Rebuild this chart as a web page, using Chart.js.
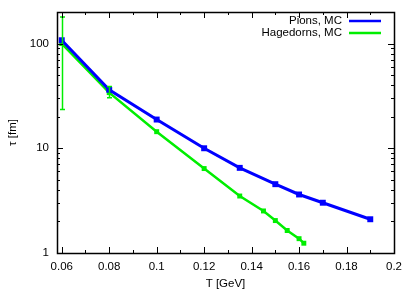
<!DOCTYPE html>
<html>
<head>
<meta charset="utf-8">
<script src="https://cdn.jsdelivr.net/npm/chart.js@4.4.0/dist/chart.umd.min.js"></script>
<style>
  html, body { margin: 0; padding: 0; background: #fff; }
  #wrap { width: 415px; height: 291px; }
</style>
</head>
<body>
<div id="wrap"><canvas id="c" width="415" height="291"></canvas></div>
<script>
// data
const pionT = [0.06, 0.08, 0.1, 0.12, 0.135, 0.15, 0.16, 0.17, 0.19]
const pionTau = [107.5, 36.2, 18.8, 10.0, 6.5, 4.54, 3.62, 3.02, 2.1]

const hageT = [0.06, 0.08, 0.1, 0.12, 0.135, 0.145, 0.15, 0.155, 0.16, 0.162]
const hageTau = [100, 34, 14.4, 6.4, 3.5, 2.52, 2.04, 1.64, 1.37, 1.24]
// error bars (only the first two points have visible ones)
const hageErrLow = [23.4, 30.4, null, null, null, null, null, null, null, null]
const hageErrHigh = [179, 38.9, null, null, null, null, null, null, null, null]

const xTicks = [0.06, 0.08, 0.1, 0.12, 0.14, 0.16, 0.18, 0.2]
const yTicks = [1, 10, 100]

const labels = ['Pions, MC', 'Hagedorns, MC']
const colors = ['#0000ff', '#00ee00']

const font = { family: 'Liberation Sans, Arial, sans-serif', size: 11.5 }

const framePlugin = {
  id: 'frame',
  afterDatasetsDraw (chart) {
    const { ctx, chartArea: a, scales } = chart
    const x = scales.x
    const y = scales.y
    ctx.save()

    // error bars
    ctx.strokeStyle = colors[1]
    ctx.lineWidth = 1.5
    hageT.forEach((t, i) => {
      if (hageErrLow[i] == null) return
      const px = Math.round(x.getPixelForValue(t)) + 0.5
      const y0 = y.getPixelForValue(hageErrLow[i])
      const y1 = y.getPixelForValue(hageErrHigh[i])
      ctx.beginPath()
      ctx.moveTo(px, y0); ctx.lineTo(px, y1)
      ctx.moveTo(px - 2.5, y0); ctx.lineTo(px + 2.5, y0)
      ctx.moveTo(px - 2.5, y1); ctx.lineTo(px + 2.5, y1)
      ctx.stroke()
    })

    ctx.strokeStyle = '#000'
    ctx.lineWidth = 1
    // inward ticks, mirrored
    ctx.beginPath()
    for (let v = 0.06; v <= 0.2001; v += 0.01) {
      const px = Math.round(x.getPixelForValue(v)) + 0.5
      const major = Math.round(v * 100) % 2 === 0
      const len = major ? 6 : 3
      ctx.moveTo(px, a.bottom); ctx.lineTo(px, a.bottom - len)
      ctx.moveTo(px, a.top); ctx.lineTo(px, a.top + len)
    }
    for (let d = 1; d <= 100; d *= 10) {
      for (let m = 1; m <= 9; m++) {
        const v = d * m
        if (v > y.max) break
        const py = Math.round(y.getPixelForValue(v)) + 0.5
        const len = m === 1 ? 6 : 3
        ctx.moveTo(a.left, py); ctx.lineTo(a.left + len, py)
        ctx.moveTo(a.right, py); ctx.lineTo(a.right - len, py)
      }
    }
    ctx.stroke()

    // frame
    ctx.lineWidth = 1.5
    ctx.strokeRect(Math.round(a.left) + 0.5, Math.round(a.top) + 0.5,
      Math.round(a.right - a.left), Math.round(a.bottom - a.top))

    // legend
    ctx.font = font.size + 'px ' + font.family
    ctx.textAlign = 'right'
    ctx.textBaseline = 'middle'
    ctx.fillStyle = '#000'
    labels.forEach((lab, i) => {
      const ly = 21 + i * 12
      ctx.fillText(lab, 342, ly)
      ctx.strokeStyle = colors[i]
      ctx.lineWidth = 2.5
      ctx.beginPath()
      ctx.moveTo(349, ly); ctx.lineTo(381, ly)
      ctx.stroke()
    })
    ctx.restore()
  }
}

new Chart(document.getElementById('c'), {
  type: 'line',
  data: {
    datasets: [{
      label: labels[0],
      data: pionT.map((t, i) => ({ x: t, y: pionTau[i] })),
      borderColor: colors[0],
      backgroundColor: colors[0],
      borderWidth: 3,
      pointStyle: 'rect',
      pointRadius: 4.2,
      pointBorderWidth: 0
    }, {
      label: labels[1],
      data: hageT.map((t, i) => ({ x: t, y: hageTau[i] })),
      borderColor: colors[1],
      backgroundColor: colors[1],
      borderWidth: 2.5,
      pointStyle: 'rect',
      pointRadius: 3.5,
      pointBorderWidth: 0
    }]
  },
  options: {
    responsive: false,
    animation: false,
    layout: { padding: { top: 12, right: 21, left: 0, bottom: 0 } },
    plugins: { legend: { display: false }, tooltip: { enabled: false } },
    scales: {
      x: {
        type: 'linear',
        min: 0.058,
        max: 0.2,
        afterBuildTicks: s => { s.ticks = xTicks.map(v => ({ value: v })) },
        afterFit: s => { s.height = 38; s.paddingLeft = 0; s.paddingRight = 0 },
        grid: { display: false, drawTicks: false },
        border: { display: false },
        ticks: {
          font,
          color: '#000',
          padding: 7,
          maxRotation: 0,
          callback: v => String(+v.toFixed(2))
        },
        title: { display: true, text: 'T [GeV]', font, color: '#000', padding: { top: 0, bottom: 0 } }
      },
      y: {
        type: 'logarithmic',
        min: 1,
        max: 200,
        afterBuildTicks: s => { s.ticks = yTicks.map(v => ({ value: v })) },
        afterFit: s => { s.width = 57; s.paddingTop = 0; s.paddingBottom = 0 },
        grid: { display: false, drawTicks: false },
        border: { display: false },
        ticks: { font, color: '#000', padding: 8, callback: v => String(v) },
        title: { display: true, text: 'τ [fm]', font, color: '#000', padding: { top: 6, bottom: 4 } }
      }
    }
  },
  plugins: [framePlugin]
})
</script>
</body>
</html>
